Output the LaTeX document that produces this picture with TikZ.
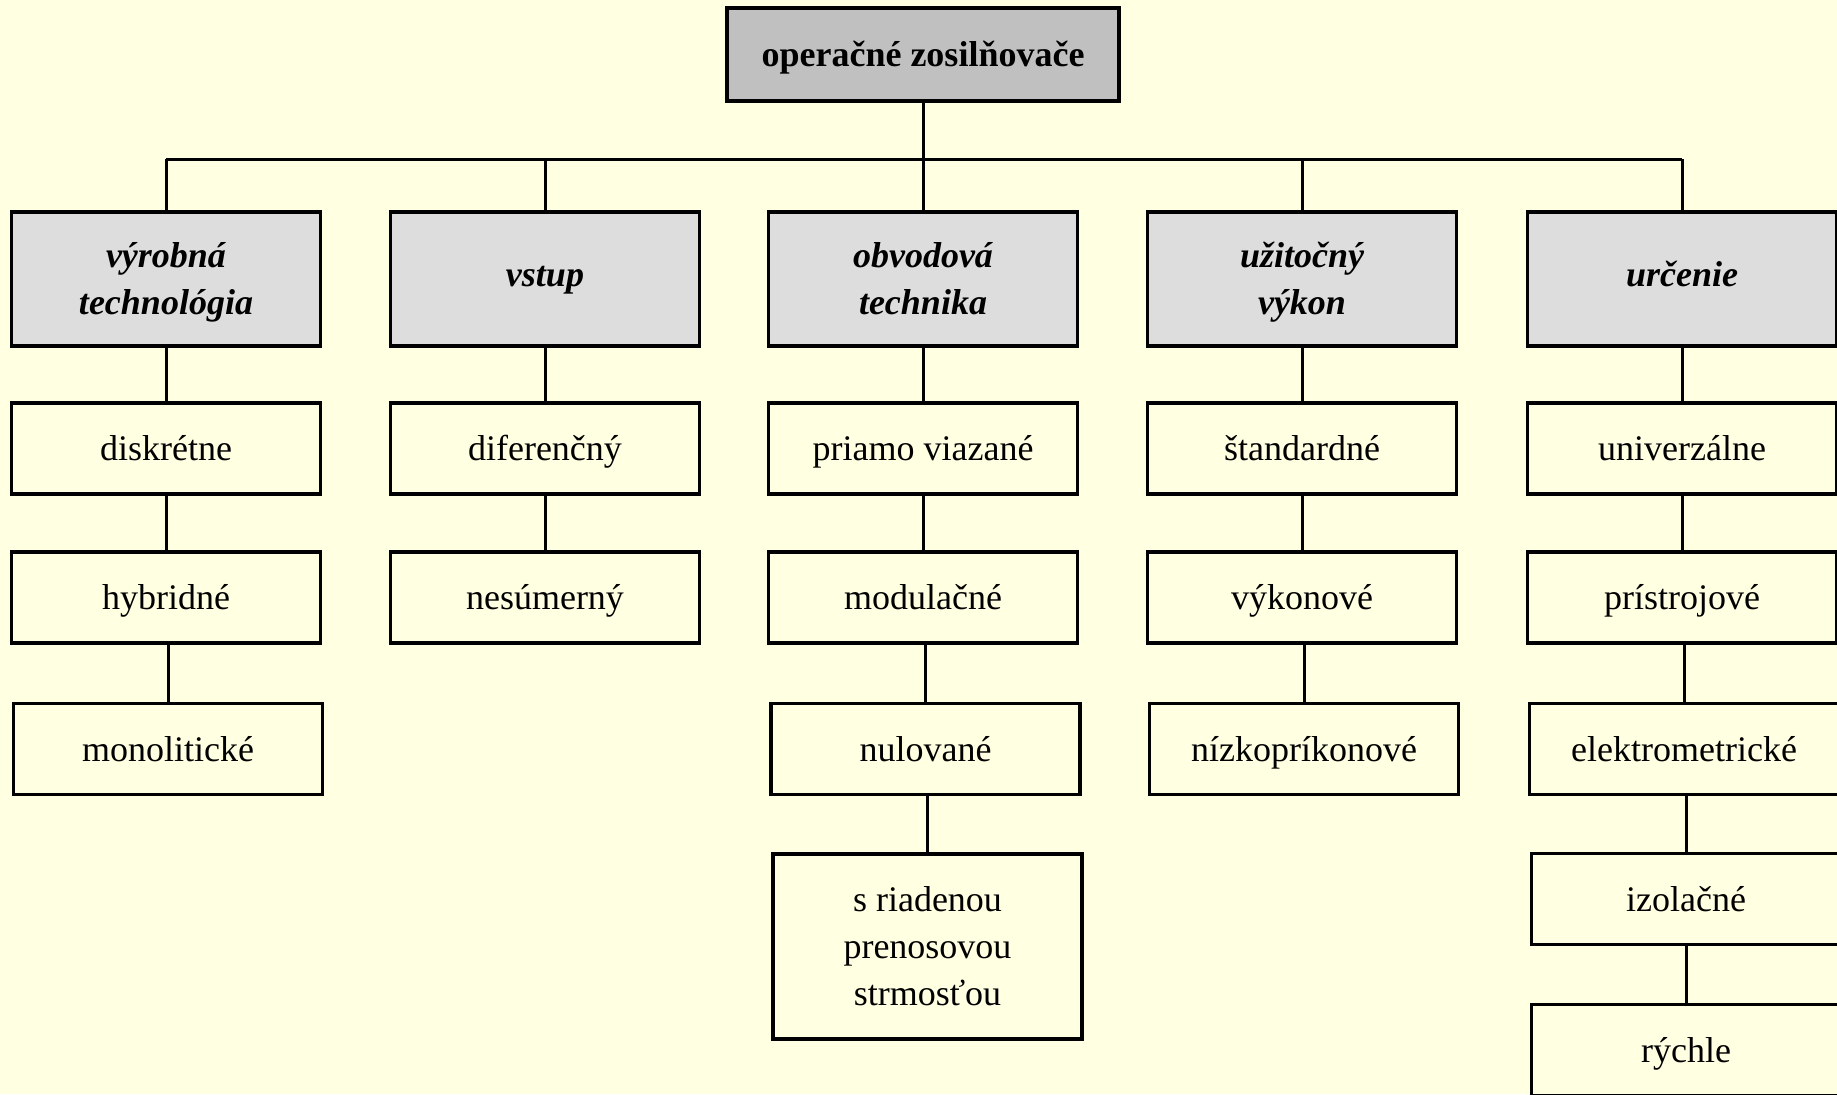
\documentclass[tikz,border=0pt]{standalone}
\usepackage{fontspec}
\setmainfont{Liberation Serif}
\definecolor{bgc}{RGB}{255,255,225}
\definecolor{hdrc}{RGB}{221,221,221}
\definecolor{topc}{RGB}{192,192,192}
\newcommand\zstrut{\rule[-5.75pt]{0pt}{23.5pt}}
\newcommand\hstrut{\rule[-8pt]{0pt}{23.5pt}}
\begin{document}
\begin{tikzpicture}[x=0.5pt,y=-0.5pt,
 base/.style={draw=black, line width=1.8pt, rectangle, inner sep=0pt, align=center, text=black, font=\fontsize{18}{23.5}\selectfont},
 item/.style={base, fill=bgc, minimum width=154.5pt, minimum height=45.5pt},
 tallitem/.style={item, minimum height=92.5pt},
 hdr/.style={base, fill=hdrc, minimum width=154.5pt, minimum height=67pt, font=\fontsize{18}{23.5}\selectfont\bfseries\itshape},
 topbox/.style={base, fill=topc, minimum width=196pt, minimum height=46.5pt, font=\fontsize{18}{23.5}\selectfont\bfseries},
 link/.style={draw=black, line width=1.5pt}]
\fill[bgc] (0,0) rectangle (1837,1094);
\useasboundingbox (0,0) rectangle (1837,1094);
\clip (0,0) rectangle (1837,1094);

% top
\node[topbox] (top) at (923,54.5) {\zstrut operačné zosilňovače};
\coordinate (barL) at (166,159);
\coordinate (barR) at (1682,159);

% headers
\node[hdr] (h1) at (166,279) {\zstrut výrobná\\\zstrut technológia};
\node[hdr] (h2) at (545,279) {\hstrut vstup};
\node[hdr] (h3) at (923,279) {\zstrut obvodová\\\zstrut technika};
\node[hdr] (h4) at (1302,279) {\zstrut užitočný\\\zstrut výkon};
\node[hdr] (h5) at (1682,279) {\hstrut určenie};

% column 1
\node[item] (a1) at (166,448.5) {\zstrut diskrétne};
\node[item] (a2) at (166,597.5) {\zstrut hybridné};
\node[item] (a3) at (168,749) {\zstrut monolitické};
% column 2
\node[item] (b1) at (545,448.5) {\zstrut diferenčný};
\node[item] (b2) at (545,597.5) {\zstrut nesúmerný};
% column 3
\node[item] (c1) at (923,448.5) {\zstrut priamo viazané};
\node[item] (c2) at (923,597.5) {\zstrut modulačné};
\node[item] (c3) at (925.5,749) {\zstrut nulované};
\node[tallitem] (c4) at (927.5,946.5) {\zstrut s riadenou\\\zstrut prenosovou\\\zstrut strmosťou};
% column 4
\node[item] (d1) at (1302,448.5) {\zstrut štandardné};
\node[item] (d2) at (1302,597.5) {\zstrut výkonové};
\node[item] (d3) at (1304,749) {\zstrut nízkopríkonové};
% column 5
\node[item] (e1) at (1682,448.5) {\zstrut univerzálne};
\node[item] (e2) at (1682,597.5) {\zstrut prístrojové};
\node[item] (e3) at (1684,749) {\zstrut elektrometrické};
\node[item] (e4) at (1686,899) {\zstrut izolačné};
\node[item] (e5) at (1686,1050) {\zstrut rýchle};

% connectors
\draw[link] (barL) -- (barR);
\draw[link] (top.south) -- (top.south |- barL);
\foreach \h in {h1,h2,h3,h4,h5} \draw[link] (\h.north) -- (\h.north |- barL);
\foreach \u/\l in {h1/a1,a1/a2,a2/a3,h2/b1,b1/b2,h3/c1,c1/c2,c2/c3,c3/c4,h4/d1,d1/d2,d2/d3,h5/e1,e1/e2,e2/e3,e3/e4,e4/e5}
  \draw[link] (\l.north) -- (\l.north |- \u.south);
\end{tikzpicture}
\end{document}
